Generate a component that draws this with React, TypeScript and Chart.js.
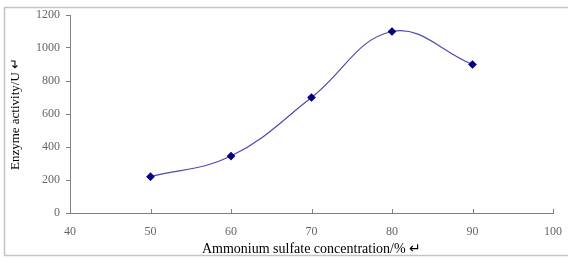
import React, { useEffect, useRef } from "react";
import { Chart, registerables } from "chart.js";

Chart.register(...registerables);

const concentrations = [50, 60, 70, 80, 90];
const activity = [220, 345, 700, 1100, 900];
const xTitle = "Ammonium sulfate concentration/% ↵";
const yTitle = "Enzyme activity/U ↵";

const innerTicks = {
  id: "innerTicks",
  beforeDraw(chart: any) {
    const ctx = chart.ctx;
    ctx.save();
    ctx.strokeStyle = "#c4c4c4";
    ctx.lineWidth = 1.5;
    ctx.beginPath();
    ctx.moveTo(chart.width, 7.5);
    ctx.lineTo(4.5, 7.5);
    ctx.lineTo(4.5, 255.5);
    ctx.lineTo(chart.width, 255.5);
    ctx.stroke();
    ctx.restore();
  },
  afterDraw(chart: any) {
    const x = chart.scales.x;
    const ctx = chart.ctx;
    const bottom = chart.chartArea.bottom;
    ctx.save();
    ctx.strokeStyle = "#808080";
    ctx.lineWidth = 1;
    x.ticks.forEach((t: any) => {
      const px = Math.round(x.getPixelForValue(t.value)) + 0.5;
      ctx.beginPath();
      ctx.moveTo(px, bottom);
      ctx.lineTo(px, bottom - 4);
      ctx.stroke();
    });
    ctx.restore();
  },
};

export default function App() {
  const ref = useRef<HTMLCanvasElement>(null);
  useEffect(() => {
    if (!ref.current) return;
    const chart = new Chart(ref.current, {
      type: "line",
      data: {
        datasets: [
          {
            data: concentrations.map((c, i) => ({ x: c, y: activity[i] })),
            borderColor: "#4b4bb0",
            borderWidth: 1.2,
            tension: 0.4,
            pointStyle: "rectRot",
            pointRadius: 3.5,
            pointBackgroundColor: "#000080",
            pointBorderColor: "#000080",
            fill: false,
          },
        ],
      },
      plugins: [innerTicks],
      options: {
        animation: false,
        responsive: false,
        layout: { padding: { top: 15, right: 15, left: 0, bottom: 0 } },
        plugins: { legend: { display: false }, tooltip: { enabled: false } },
        scales: {
          x: {
            type: "linear",
            min: 40,
            max: 100,
            ticks: {
              stepSize: 10,
              color: "#666666",
              font: { family: "'Liberation Serif', serif", size: 12 },
              padding: 12,
              callback: (v: any) => String(v),
            },
            grid: { drawOnChartArea: false, drawTicks: false },
            border: { color: "#808080", width: 1 },
            title: {
              display: true,
              text: xTitle,
              color: "#000000",
              font: { family: "'Liberation Serif', serif", size: 14 },
              padding: { top: 3, bottom: 0 },
            },
            afterFit: (s: any) => {
              s.height = 45;
              s.paddingRight = 0;
              s.paddingLeft = 0;
            },
          },
          y: {
            min: 0,
            max: 1200,
            ticks: {
              stepSize: 200,
              color: "#666666",
              font: { family: "'Liberation Serif', serif", size: 12 },
              padding: 6,
              callback: (v: any) => String(v),
            },
            grid: {
              drawOnChartArea: false,
              drawTicks: true,
              tickLength: 4,
              color: "#808080",
            },
            border: { color: "#808080", width: 1 },
            title: {
              display: true,
              text: yTitle,
              color: "#000000",
              font: { family: "'Liberation Serif', serif", size: 13 },
              padding: { top: 8, bottom: 0 },
            },
            afterFit: (s: any) => {
              s.width = 70;
            },
          },
        },
      },
    });
    return () => chart.destroy();
  }, []);
  return (
    <div style={{ position: "fixed", left: 0, top: 0, width: 568, height: 258, background: "#fff" }}>
      <canvas ref={ref} width={568} height={258} style={{ position: "absolute", left: 0, top: 0 }} />
    </div>
  );
}
